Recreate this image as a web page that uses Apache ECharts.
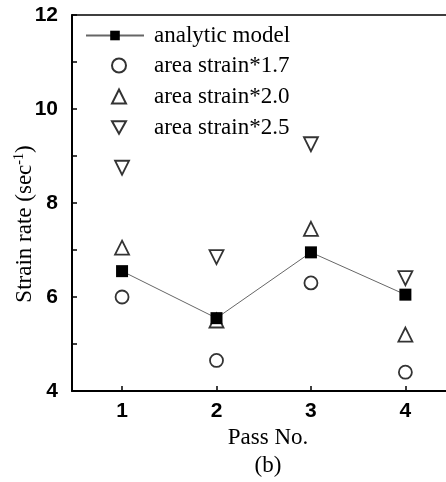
<!DOCTYPE html>
<html>
<head>
    <meta charset="utf-8">
    <title>Strain rate vs pass</title>
    <style>
        * { margin: 0; padding: 0; }
        #chart { width: 446px; height: 482px; background: #fff; }
    </style>
</head>
<body>
<div id="chart"></div>
<script src="https://cdn.jsdelivr.net/npm/echarts@6/dist/echarts.min.js"></script>
<script>
    // values
    const passes = [1, 2, 3, 4];
    const analyticModel = [6.55, 5.55, 6.95, 6.05];
    const areaStrain17 = [6.0, 4.65, 6.3, 4.4];
    const areaStrain20 = [7.05, 5.5, 7.45, 5.2];
    const areaStrain25 = [8.75, 6.85, 9.25, 6.4];
    const seriesNames = ['analytic model', 'area strain*1.7', 'area strain*2.0', 'area strain*2.5'];

    const pairs = (ys) => passes.map((x, i) => [x, ys[i]]);
    const serif = 'Liberation Serif';
    const openMarker = { color: '#fff', borderColor: '#000', borderWidth: 1.8 };
    const legendText = { fontFamily: serif, fontSize: 23, color: '#000', lineHeight: 23 };

    const chart = echarts.init(document.getElementById('chart'));
    chart.setOption({
        animation: false,
        grid: { left: 72, top: 15, right: 0, bottom: 91, outerBoundsMode: 'none' },
        title: {
            text: '(b)', left: 263, top: 449, textAlign: 'center',
            textStyle: { fontFamily: serif, fontSize: 23, fontWeight: 'normal', color: '#000' }
        },
        legend: [{
            // line + square entry gets the wide icon
            left: 80, top: 19, orient: 'vertical',
            itemWidth: 58, itemHeight: 12,
            textStyle: Object.assign({ padding: [0, 0, 0, 5] }, legendText),
            data: [seriesNames[0]]
        }, {
            left: 106, top: 49, orient: 'vertical',
            itemWidth: 14, itemHeight: 14, itemGap: 8,
            textStyle: Object.assign({ padding: [0, 0, 0, 23] }, legendText),
            data: [
                seriesNames[1],
                seriesNames[2],
                { name: seriesNames[3], icon: 'path://M0,0L10,0L5,9Z' }
            ]
        }],
        xAxis: [{
            type: 'value', min: 0.47, max: 4.43,
            name: 'Pass No.', nameLocation: 'middle', nameGap: 32,
            nameTextStyle: { fontFamily: serif, fontSize: 23, color: '#000', padding: [0, 0, 0, 18] },
            splitLine: { show: false },
            axisLine: { onZero: false, lineStyle: { color: '#000', width: 2 } },
            axisTick: { inside: true, length: 5, customValues: passes, lineStyle: { color: '#000', width: 1.5 } },
            axisLabel: { customValues: passes, margin: 10, fontFamily: 'Liberation Sans', fontWeight: 'bold', fontSize: 21, color: '#000' }
        }, {
            type: 'value', position: 'top', min: 0.47, max: 4.43,
            axisLine: { onZero: false, lineStyle: { color: '#000', width: 1.5 } },
            axisTick: { show: false }, axisLabel: { show: false }, splitLine: { show: false }
        }],
        yAxis: {
            type: 'value', min: 4, max: 12, interval: 2,
            name: 'Strain rate (sec{sup|-1})', nameLocation: 'middle', nameGap: 34, nameMoveOverlap: false,
            nameTextStyle: {
                fontFamily: serif, fontSize: 23, color: '#000', padding: [0, 42, 0, 0],
                rich: { sup: { fontFamily: serif, fontSize: 14, verticalAlign: 'top', padding: [0, 0, 12, 0] } }
            },
            splitLine: { show: false },
            axisLine: { lineStyle: { color: '#000', width: 2 } },
            axisTick: { inside: true, length: 5, lineStyle: { color: '#000', width: 1.5 } },
            minorTick: { show: true, splitNumber: 2, length: 5, lineStyle: { color: '#000', width: 1.5 } },
            axisLabel: { margin: 14, fontFamily: 'Liberation Sans', fontWeight: 'bold', fontSize: 21, color: '#000' }
        },
        series: [{
            name: seriesNames[0], type: 'line', data: pairs(analyticModel),
            symbol: 'rect', symbolSize: 12, z: 3,
            itemStyle: { color: '#000' },
            lineStyle: { color: '#666', width: 1 }
        }, {
            name: seriesNames[1], type: 'scatter', data: pairs(areaStrain17),
            symbol: 'circle', symbolSize: 13, itemStyle: openMarker
        }, {
            name: seriesNames[2], type: 'scatter', data: pairs(areaStrain20),
            symbol: 'triangle', symbolSize: 14, itemStyle: openMarker
        }, {
            name: seriesNames[3], type: 'scatter', data: pairs(areaStrain25),
            symbol: 'triangle', symbolRotate: 180, symbolSize: 14, itemStyle: openMarker
        }]
    });
</script>
</body>
</html>
